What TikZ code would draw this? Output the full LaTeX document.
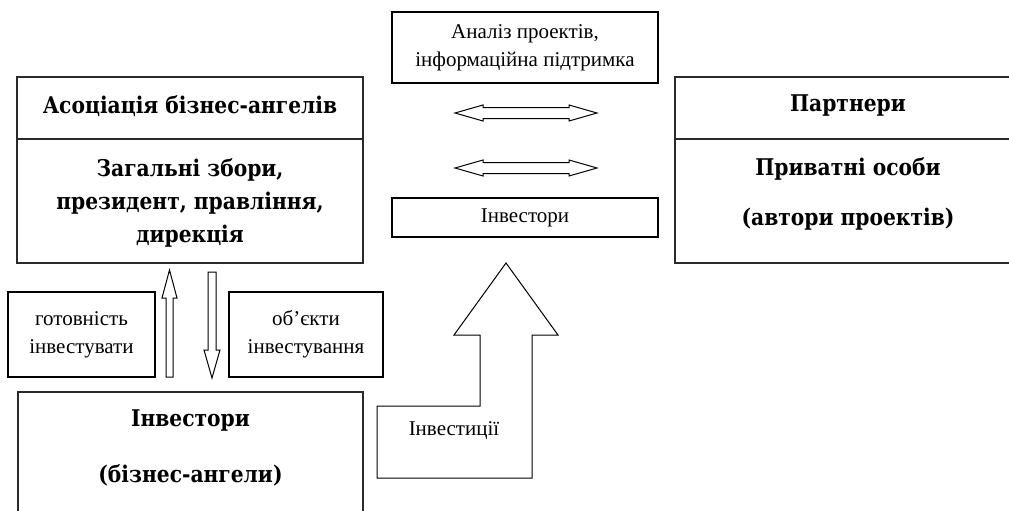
\documentclass[tikz,border=0pt]{standalone}
\usepackage{fontspec}
\setmainfont{Liberation Serif}
\newfontfamily\bfam{DejaVu Serif}[FakeStretch=0.88]
\definecolor{edge}{HTML}{2A2A2A}
\tikzset{
  bigbox/.style={draw=edge,line width=1.8pt,minimum width=346pt,inner sep=0pt},
  thinbox/.style={draw=black,line width=1.1pt,inner sep=0pt},
  btext/.style={font=\bfam\bfseries\fontsize{23}{33}\selectfont,align=center,inner sep=0pt},
  rtext/.style={font=\fontsize{21}{28}\selectfont,align=center,inner sep=0pt},
  blockarrow/.style={draw=black,line width=1pt,line join=miter,fill=white}
}
\begin{document}
\begin{tikzpicture}[x=1pt,y=-1pt]
\useasboundingbox (0,0) rectangle (1009,511);
% left association box
\node[bigbox,minimum height=62pt] (assocT) at (190,108) {};
\node[btext] (assocTt) at (190,106) {Асоціація бізнес-ангелів};
\node[bigbox,minimum height=124pt] (assocB) at (190,201) {};
\node[btext] (assocBt) at (190,203) {Загальні збори,\\президент, правління,\\дирекція};
% right partners box
\node[bigbox,minimum height=62pt] (partT) at (848,108) {};
\node[btext] (partTt) at (848,106) {Партнери};
\node[bigbox,minimum height=124pt] (partB) at (848,201) {};
\node[btext,font=\bfam\bfseries\fontsize{23}{50}\selectfont] (partBt) at (848,194) {Приватні особи\\(автори проектів)};
% bottom-left investors
\node[bigbox,minimum width=345pt,minimum height=150pt] (invL) at (190.5,467) {};
\node[btext,font=\bfam\bfseries\fontsize{23}{56}\selectfont] (invLt) at (190.5,448) {Інвестори\\(бізнес-ангели)};
% small boxes
\node[thinbox,minimum width=147pt,minimum height=85pt,rtext] (got) at (81.5,334.5) {готовність\\інвестувати};
\node[thinbox,minimum width=154pt,minimum height=85pt,rtext] (obj) at (306,334.5) {об’єкти\\інвестування};
% middle boxes
\node[thinbox,minimum width=266pt,minimum height=71pt,rtext] (anal) at (525,47.5) {Аналіз проектів,\\інформаційна підтримка};
\node[thinbox,minimum width=266pt,minimum height=39pt,rtext] (invM) at (525,217.5) {Інвестори};
% vertical block arrows
\draw[blockarrow] (166,377) -- (166,298) -- (162,298) -- (169.5,270) -- (177,298) -- (173,298) -- (173,377) -- cycle;
\draw[blockarrow] (208,272) -- (216,272) -- (216,350) -- (220,350) -- (212,378) -- (204,350) -- (208,350) -- cycle;
% horizontal double arrows
\foreach \yy in {113,168}{
\draw[blockarrow] (455,\yy) -- (483,\yy-8) -- (483,\yy-5.5) -- (569,\yy-5.5) -- (569,\yy-8) -- (597,\yy) -- (569,\yy+8) -- (569,\yy+5.5) -- (483,\yy+5.5) -- (483,\yy+8) -- cycle;
}
% big investment arrow
\draw[blockarrow] (506,263) -- (558,335) -- (532,335) -- (532,478) -- (377,478) -- (377,406) -- (480,406) -- (480,335) -- (454,335) -- cycle;
\node[rtext] (invest) at (454,431) {Інвестиції};
\end{tikzpicture}
\end{document}
